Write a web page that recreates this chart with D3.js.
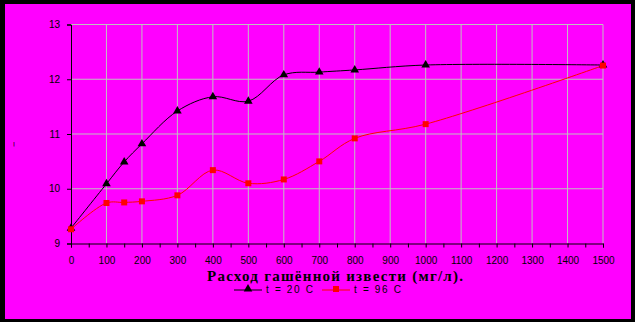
<!DOCTYPE html>
<html>
<head>
<meta charset="utf-8">
<title>Расход гашённой извести</title>
<script src="https://cdn.jsdelivr.net/npm/d3@7/dist/d3.min.js"></script>
<style>
body { margin: 0; background: #000; }
svg { display: block; }
.tick text { font: 10px "Liberation Sans", sans-serif; fill: #000; }
</style>
</head>
<body>
<script>
  // данные
  var dose = [0, 100, 150, 200, 300, 400, 500, 600, 700, 800, 1000, 1500];
  var t20 = [9.28, 10.09, 10.49, 10.82, 11.42, 11.68, 11.60, 12.08, 12.13, 12.17, 12.26, 12.26];
  var t96 = [9.26, 9.74, 9.75, 9.77, 9.88, 10.34, 10.10, 10.17, 10.50, 10.92, 11.18, 12.25];
  var seriesNames = ["t = 20 C", "t = 96 C"];
  var xTicks = d3.range(0, 1501, 100);
  var yTicks = [9, 10, 11, 12, 13];
  var xTitle = "Расход гашённой извести (мг/л).";

  var width = 635, height = 322;

  var svg = d3.select("body").append("svg")
    .attr("width", width).attr("height", height);

  svg.append("rect").attr("width", width).attr("height", height).attr("fill", "#000");
  svg.append("rect").attr("x", 5).attr("y", 4).attr("width", 626).attr("height", 315).attr("fill", "#ff00ff");

  var x = d3.scaleLinear().domain([0, 1500]).range([71, 603]);
  var y = d3.scaleLinear().domain([9, 13]).range([243.5, 24.5]);

  // сетка
  svg.append("g").selectAll("line")
    .data(xTicks.slice(1))
    .enter().append("line")
    .attr("x1", function(d) { return x(d); }).attr("x2", function(d) { return x(d); })
    .attr("y1", y(13)).attr("y2", y(9))
    .attr("stroke", "#c0c0c0").attr("stroke-width", 1);

  svg.append("g").selectAll("line")
    .data(yTicks.slice(1))
    .enter().append("line")
    .attr("x1", x(0)).attr("x2", x(1500))
    .attr("y1", function(d) { return y(d); }).attr("y2", function(d) { return y(d); })
    .attr("stroke", "#c0c0c0").attr("stroke-width", 1);

  // оси
  var xAxis = svg.append("g")
    .attr("transform", "translate(0," + y(9) + ")")
    .call(d3.axisBottom(x)
      .tickValues(d3.range(0, 1501, 50))
      .tickSize(4)
      .tickPadding(9)
      .tickFormat(function(d) { return d % 100 === 0 ? d : ""; }));
  xAxis.select(".domain").attr("stroke", "#000");
  xAxis.selectAll(".tick line").attr("stroke", "#000");

  var yAxis = svg.append("g")
    .attr("transform", "translate(" + x(0) + ",0)")
    .call(d3.axisLeft(y).tickValues(yTicks).tickSize(4).tickPadding(7).tickFormat(d3.format("d")));
  yAxis.select(".domain").attr("stroke", "#000");
  yAxis.selectAll(".tick line").attr("stroke", "#000");

  // крошечная подпись оси Y
  svg.append("text")
    .attr("x", 14).attr("y", 142)
    .attr("transform", "rotate(180,14,142)")
    .attr("font-family", "Liberation Sans, sans-serif")
    .attr("font-size", 7)
    .attr("text-anchor", "middle")
    .text("i");

  // линии
  var line = d3.line()
    .x(function(d) { return x(d[0]); })
    .y(function(d) { return y(d[1]); })
    .curve(d3.curveCatmullRom.alpha(0.5));

  var series = [
    { name: seriesNames[0], values: t20, color: "#000", shape: d3.symbolTriangle },
    { name: seriesNames[1], values: t96, color: "#ff0000", shape: d3.symbolSquare }
  ];

  series.forEach(function(s) {
    var pts = dose.map(function(d, i) { return [d, s.values[i]]; });
    svg.append("path")
      .attr("d", line(pts))
      .attr("fill", "none")
      .attr("stroke", s.color)
      .attr("stroke-width", 1);
    svg.append("g").selectAll("path")
      .data(pts)
      .enter().append("path")
      .attr("transform", function(d) { return "translate(" + x(d[0]) + "," + y(d[1]) + ")"; })
      .attr("d", d3.symbol().type(s.shape).size(s.shape === d3.symbolSquare ? 36 : 32))
      .attr("fill", s.color);
  });

  // подпись оси X
  svg.append("text")
    .attr("x", 207).attr("y", 281)
    .attr("font-family", "Liberation Serif, serif")
    .attr("font-weight", "bold")
    .attr("font-size", 15)
    .attr("textLength", 256)
    .attr("lengthAdjust", "spacing")
    .text(xTitle);

  // легенда
  var legendX = [234, 322];
  series.forEach(function(s, i) {
    var g = svg.append("g").attr("transform", "translate(" + legendX[i] + ",290)");
    g.append("line").attr("x1", 0).attr("x2", 28).attr("y1", 0).attr("y2", 0)
      .attr("stroke", s.color).attr("stroke-width", 1);
    g.append("path").attr("transform", "translate(14,-1)")
      .attr("d", d3.symbol().type(s.shape).size(s.shape === d3.symbolSquare ? 36 : 32))
      .attr("fill", s.color);
    g.append("text").attr("x", 32).attr("y", 3)
      .attr("font-family", "Liberation Sans, sans-serif")
      .attr("font-size", 10)
      .attr("textLength", 47)
      .attr("lengthAdjust", "spacing")
      .attr("fill", "#000")
      .text(s.name);
  });
</script>
</body>
</html>
